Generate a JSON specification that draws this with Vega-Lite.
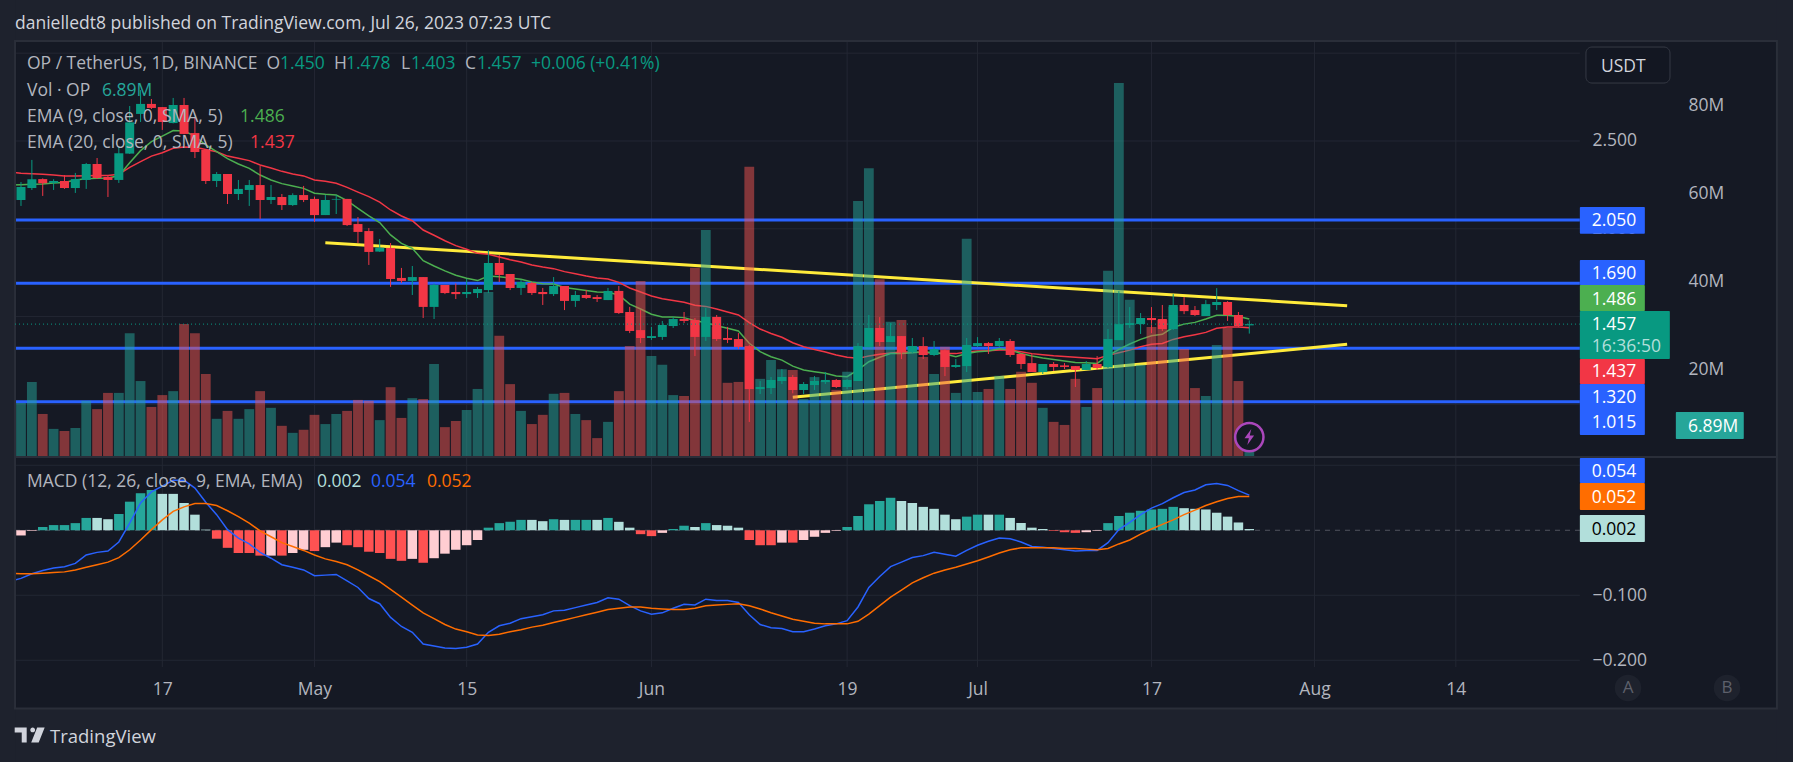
{"$schema":"https://vega.github.io/schema/vega-lite/v6.json","width":1793,"height":762,"autosize":{"type":"none"},"padding":0,"background":"#1e222d",
"data":{"values":[{}]},
"config":{"view":{"fill":"#151924","stroke":null},"font":"Open Sans","scale":{"continuousPadding":0},"axis":{"title":null,"domain":false,"ticks":false,"grid":false,"labelColor":"#b2b5be","labelFont":"Open Sans","labelFontSize":17.5,"labelPadding":0,"labelOverlap":false,"labelFlush":false},"text":{"font":"Open Sans","fontSize":17.5}},
"datasets":{
"bars":[
{"d":"2023-04-03","dir":null,"o":null,"h":null,"l":null,"c":null,"v":null,"e9":2.249,"e20":2.323,"hi":null,"hk":null,"m":-0.0785,"s":-0.066},
{"d":"2023-04-04","dir":"u","o":2.164,"h":2.266,"l":2.13,"c":2.238,"v":12.3,"e9":2.251,"e20":2.316,"hi":-0.008,"hk":"d","m":-0.074,"s":-0.067},
{"d":"2023-04-05","dir":"u","o":2.232,"h":2.392,"l":2.221,"c":2.282,"v":17.1,"e9":2.253,"e20":2.314,"hi":-0.001,"hk":"d","m":-0.067,"s":-0.067},
{"d":"2023-04-06","dir":"d","o":2.283,"h":2.287,"l":2.187,"c":2.259,"v":9.8,"e9":2.255,"e20":2.31,"hi":0.005,"hk":"a","m":-0.062,"s":-0.066},
{"d":"2023-04-07","dir":"u","o":2.261,"h":2.282,"l":2.221,"c":2.272,"v":6.4,"e9":2.261,"e20":2.306,"hi":0.008,"hk":"a","m":-0.058,"s":-0.065},
{"d":"2023-04-08","dir":"d","o":2.272,"h":2.306,"l":2.227,"c":2.232,"v":5.9,"e9":2.264,"e20":2.301,"hi":0.008,"hk":"a","m":-0.056,"s":-0.064},
{"d":"2023-04-09","dir":"u","o":2.232,"h":2.318,"l":2.204,"c":2.283,"v":6.6,"e9":2.278,"e20":2.301,"hi":0.011,"hk":"a","m":-0.051,"s":-0.061},
{"d":"2023-04-10","dir":"u","o":2.278,"h":2.375,"l":2.227,"c":2.369,"v":12.8,"e9":2.285,"e20":2.302,"hi":0.019,"hk":"a","m":-0.038,"s":-0.057},
{"d":"2023-04-11","dir":"d","o":2.369,"h":2.403,"l":2.283,"c":2.289,"v":10.9,"e9":2.287,"e20":2.304,"hi":0.019,"hk":"b","m":-0.034,"s":-0.053},
{"d":"2023-04-12","dir":"d","o":2.295,"h":2.306,"l":2.181,"c":2.278,"v":14.6,"e9":2.289,"e20":2.304,"hi":0.017,"hk":"b","m":-0.032,"s":-0.049},
{"d":"2023-04-13","dir":"u","o":2.278,"h":2.468,"l":2.261,"c":2.43,"v":14.6,"e9":2.302,"e20":2.31,"hi":0.025,"hk":"a","m":-0.018,"s":-0.042},
{"d":"2023-04-14","dir":"u","o":2.428,"h":2.699,"l":2.426,"c":2.606,"v":28.2,"e9":2.376,"e20":2.35,"hi":0.044,"hk":"a","m":0.011,"s":-0.03},
{"d":"2023-04-15","dir":"u","o":2.654,"h":2.79,"l":2.608,"c":2.711,"v":17.3,"e9":2.445,"e20":2.382,"hi":0.057,"hk":"a","m":0.042,"s":-0.015},
{"d":"2023-04-16","dir":"d","o":2.711,"h":2.739,"l":2.682,"c":2.688,"v":11.4,"e9":2.496,"e20":2.414,"hi":0.062,"hk":"a","m":0.059,"s":0.001},
{"d":"2023-04-17","dir":"d","o":2.693,"h":2.693,"l":2.563,"c":2.608,"v":14.1,"e9":2.528,"e20":2.433,"hi":0.056,"hk":"b","m":0.068,"s":0.016},
{"d":"2023-04-18","dir":"u","o":2.602,"h":2.745,"l":2.6,"c":2.705,"v":15.0,"e9":2.559,"e20":2.458,"hi":0.056,"hk":"b","m":0.077,"s":0.029},
{"d":"2023-04-19","dir":"d","o":2.705,"h":2.745,"l":2.538,"c":2.54,"v":30.3,"e9":2.557,"e20":2.466,"hi":0.042,"hk":"b","m":0.077,"s":0.036},
{"d":"2023-04-20","dir":"d","o":2.545,"h":2.631,"l":2.403,"c":2.437,"v":28.2,"e9":2.528,"e20":2.464,"hi":0.024,"hk":"b","m":0.065,"s":0.041},
{"d":"2023-04-21","dir":"d","o":2.449,"h":2.449,"l":2.255,"c":2.272,"v":18.9,"e9":2.477,"e20":2.452,"hi":0.001,"hk":"b","m":0.043,"s":0.041},
{"d":"2023-04-22","dir":"u","o":2.272,"h":2.323,"l":2.238,"c":2.312,"v":8.7,"e9":2.439,"e20":2.439,"hi":-0.013,"hk":"c","m":0.024,"s":0.038},
{"d":"2023-04-23","dir":"d","o":2.312,"h":2.312,"l":2.141,"c":2.198,"v":10.5,"e9":2.399,"e20":2.414,"hi":-0.027,"hk":"c","m":0.001,"s":0.03},
{"d":"2023-04-24","dir":"u","o":2.198,"h":2.278,"l":2.164,"c":2.227,"v":8.7,"e9":2.369,"e20":2.401,"hi":-0.035,"hk":"c","m":-0.012,"s":0.021},
{"d":"2023-04-25","dir":"u","o":2.221,"h":2.278,"l":2.13,"c":2.249,"v":10.9,"e9":2.344,"e20":2.388,"hi":-0.035,"hk":"c","m":-0.021,"s":0.011},
{"d":"2023-04-26","dir":"d","o":2.249,"h":2.357,"l":2.056,"c":2.164,"v":15.0,"e9":2.306,"e20":2.363,"hi":-0.039,"hk":"c","m":-0.034,"s":-0.001},
{"d":"2023-04-27","dir":"u","o":2.164,"h":2.249,"l":2.141,"c":2.181,"v":11.2,"e9":2.278,"e20":2.346,"hi":-0.039,"hk":"d","m":-0.043,"s":-0.01},
{"d":"2023-04-28","dir":"d","o":2.181,"h":2.198,"l":2.107,"c":2.135,"v":7.1,"e9":2.257,"e20":2.327,"hi":-0.039,"hk":"c","m":-0.053,"s":-0.019},
{"d":"2023-04-29","dir":"u","o":2.135,"h":2.202,"l":2.13,"c":2.192,"v":5.5,"e9":2.244,"e20":2.312,"hi":-0.035,"hk":"d","m":-0.057,"s":-0.025},
{"d":"2023-04-30","dir":"d","o":2.192,"h":2.244,"l":2.152,"c":2.164,"v":6.2,"e9":2.23,"e20":2.301,"hi":-0.03,"hk":"d","m":-0.061,"s":-0.031},
{"d":"2023-05-01","dir":"d","o":2.17,"h":2.183,"l":2.039,"c":2.078,"v":9.6,"e9":2.202,"e20":2.278,"hi":-0.032,"hk":"c","m":-0.07,"s":-0.038},
{"d":"2023-05-02","dir":"u","o":2.078,"h":2.192,"l":2.078,"c":2.164,"v":7.5,"e9":2.196,"e20":2.27,"hi":-0.026,"hk":"d","m":-0.069,"s":-0.044},
{"d":"2023-05-03","dir":"u","o":2.166,"h":2.192,"l":2.084,"c":2.17,"v":9.8,"e9":2.192,"e20":2.259,"hi":-0.019,"hk":"d","m":-0.068,"s":-0.048},
{"d":"2023-05-04","dir":"d","o":2.17,"h":2.17,"l":2.016,"c":2.021,"v":10.5,"e9":2.16,"e20":2.236,"hi":-0.023,"hk":"c","m":-0.078,"s":-0.053},
{"d":"2023-05-05","dir":"d","o":2.027,"h":2.067,"l":1.919,"c":1.982,"v":13.0,"e9":2.116,"e20":2.209,"hi":-0.026,"hk":"c","m":-0.088,"s":-0.061},
{"d":"2023-05-06","dir":"d","o":1.987,"h":2.004,"l":1.794,"c":1.868,"v":12.8,"e9":2.073,"e20":2.183,"hi":-0.033,"hk":"c","m":-0.105,"s":-0.07},
{"d":"2023-05-07","dir":"u","o":1.87,"h":1.942,"l":1.868,"c":1.892,"v":8.4,"e9":2.035,"e20":2.152,"hi":-0.035,"hk":"c","m":-0.113,"s":-0.079},
{"d":"2023-05-08","dir":"d","o":1.891,"h":1.919,"l":1.669,"c":1.714,"v":15.9,"e9":1.965,"e20":2.107,"hi":-0.044,"hk":"c","m":-0.134,"s":-0.091},
{"d":"2023-05-09","dir":"d","o":1.72,"h":1.777,"l":1.691,"c":1.703,"v":8.9,"e9":1.917,"e20":2.073,"hi":-0.047,"hk":"c","m":-0.148,"s":-0.103},
{"d":"2023-05-10","dir":"u","o":1.703,"h":1.788,"l":1.623,"c":1.725,"v":13.4,"e9":1.889,"e20":2.046,"hi":-0.044,"hk":"d","m":-0.157,"s":-0.115},
{"d":"2023-05-11","dir":"d","o":1.725,"h":1.725,"l":1.492,"c":1.555,"v":13.2,"e9":1.818,"e20":1.993,"hi":-0.05,"hk":"c","m":-0.175,"s":-0.127},
{"d":"2023-05-12","dir":"u","o":1.555,"h":1.688,"l":1.486,"c":1.68,"v":21.2,"e9":1.788,"e20":1.963,"hi":-0.043,"hk":"d","m":-0.178,"s":-0.136},
{"d":"2023-05-13","dir":"d","o":1.68,"h":1.68,"l":1.628,"c":1.634,"v":6.8,"e9":1.76,"e20":1.932,"hi":-0.036,"hk":"d","m":-0.181,"s":-0.145},
{"d":"2023-05-14","dir":"d","o":1.64,"h":1.689,"l":1.6,"c":1.628,"v":8.2,"e9":1.735,"e20":1.904,"hi":-0.03,"hk":"d","m":-0.182,"s":-0.152},
{"d":"2023-05-15","dir":"u","o":1.628,"h":1.714,"l":1.606,"c":1.64,"v":10.7,"e9":1.718,"e20":1.883,"hi":-0.023,"hk":"d","m":-0.18,"s":-0.156},
{"d":"2023-05-16","dir":"u","o":1.634,"h":1.668,"l":1.606,"c":1.657,"v":15.5,"e9":1.705,"e20":1.86,"hi":-0.015,"hk":"d","m":-0.175,"s":-0.161},
{"d":"2023-05-17","dir":"u","o":1.651,"h":1.879,"l":1.634,"c":1.805,"v":37.6,"e9":1.731,"e20":1.855,"hi":0.004,"hk":"a","m":-0.157,"s":-0.162},
{"d":"2023-05-18","dir":"d","o":1.805,"h":1.851,"l":1.697,"c":1.737,"v":27.6,"e9":1.727,"e20":1.839,"hi":0.011,"hk":"a","m":-0.147,"s":-0.16},
{"d":"2023-05-19","dir":"d","o":1.742,"h":1.742,"l":1.651,"c":1.663,"v":16.6,"e9":1.72,"e20":1.824,"hi":0.013,"hk":"a","m":-0.143,"s":-0.156},
{"d":"2023-05-20","dir":"u","o":1.663,"h":1.71,"l":1.623,"c":1.697,"v":10.5,"e9":1.712,"e20":1.811,"hi":0.016,"hk":"a","m":-0.136,"s":-0.153},
{"d":"2023-05-21","dir":"d","o":1.691,"h":1.697,"l":1.623,"c":1.634,"v":7.5,"e9":1.697,"e20":1.794,"hi":0.016,"hk":"b","m":-0.133,"s":-0.149},
{"d":"2023-05-22","dir":"d","o":1.64,"h":1.663,"l":1.566,"c":1.628,"v":9.6,"e9":1.687,"e20":1.782,"hi":0.014,"hk":"b","m":-0.13,"s":-0.146},
{"d":"2023-05-23","dir":"u","o":1.628,"h":1.725,"l":1.617,"c":1.674,"v":14.4,"e9":1.685,"e20":1.773,"hi":0.017,"hk":"a","m":-0.124,"s":-0.142},
{"d":"2023-05-24","dir":"d","o":1.674,"h":1.674,"l":1.537,"c":1.589,"v":14.6,"e9":1.666,"e20":1.756,"hi":0.016,"hk":"b","m":-0.123,"s":-0.138},
{"d":"2023-05-25","dir":"u","o":1.589,"h":1.646,"l":1.555,"c":1.623,"v":9.8,"e9":1.657,"e20":1.744,"hi":0.016,"hk":"a","m":-0.119,"s":-0.134},
{"d":"2023-05-26","dir":"d","o":1.623,"h":1.651,"l":1.6,"c":1.606,"v":8.4,"e9":1.649,"e20":1.731,"hi":0.016,"hk":"a","m":-0.115,"s":-0.13},
{"d":"2023-05-27","dir":"d","o":1.611,"h":1.623,"l":1.583,"c":1.6,"v":4.3,"e9":1.64,"e20":1.72,"hi":0.016,"hk":"b","m":-0.111,"s":-0.126},
{"d":"2023-05-28","dir":"u","o":1.594,"h":1.663,"l":1.594,"c":1.646,"v":8.0,"e9":1.638,"e20":1.714,"hi":0.019,"hk":"a","m":-0.104,"s":-0.122},
{"d":"2023-05-29","dir":"d","o":1.646,"h":1.674,"l":1.515,"c":1.52,"v":15.0,"e9":1.623,"e20":1.695,"hi":0.013,"hk":"b","m":-0.106,"s":-0.12},
{"d":"2023-05-30","dir":"d","o":1.526,"h":1.555,"l":1.406,"c":1.418,"v":25.3,"e9":1.571,"e20":1.663,"hi":0.004,"hk":"b","m":-0.116,"s":-0.118},
{"d":"2023-05-31","dir":"d","o":1.423,"h":1.537,"l":1.349,"c":1.378,"v":40.1,"e9":1.543,"e20":1.64,"hi":-0.006,"hk":"c","m":-0.124,"s":-0.118},
{"d":"2023-06-01","dir":"u","o":1.378,"h":1.441,"l":1.367,"c":1.389,"v":23.0,"e9":1.513,"e20":1.617,"hi":-0.009,"hk":"c","m":-0.129,"s":-0.12},
{"d":"2023-06-02","dir":"u","o":1.384,"h":1.475,"l":1.367,"c":1.452,"v":21.0,"e9":1.498,"e20":1.602,"hi":-0.004,"hk":"d","m":-0.127,"s":-0.121},
{"d":"2023-06-03","dir":"u","o":1.446,"h":1.498,"l":1.435,"c":1.486,"v":14.1,"e9":1.498,"e20":1.591,"hi":0.002,"hk":"a","m":-0.12,"s":-0.122},
{"d":"2023-06-04","dir":"d","o":1.486,"h":1.526,"l":1.463,"c":1.475,"v":13.9,"e9":1.494,"e20":1.581,"hi":0.007,"hk":"a","m":-0.114,"s":-0.122},
{"d":"2023-06-05","dir":"d","o":1.48,"h":1.492,"l":1.275,"c":1.384,"v":43.1,"e9":1.477,"e20":1.564,"hi":0.005,"hk":"b","m":-0.115,"s":-0.12},
{"d":"2023-06-06","dir":"u","o":1.384,"h":1.549,"l":1.361,"c":1.498,"v":51.7,"e9":1.465,"e20":1.558,"hi":0.011,"hk":"a","m":-0.106,"s":-0.116},
{"d":"2023-06-07","dir":"d","o":1.498,"h":1.509,"l":1.361,"c":1.372,"v":29.6,"e9":1.448,"e20":1.543,"hi":0.008,"hk":"b","m":-0.108,"s":-0.115},
{"d":"2023-06-08","dir":"d","o":1.378,"h":1.441,"l":1.349,"c":1.367,"v":16.9,"e9":1.433,"e20":1.526,"hi":0.007,"hk":"b","m":-0.108,"s":-0.114},
{"d":"2023-06-09","dir":"d","o":1.372,"h":1.406,"l":1.315,"c":1.327,"v":17.1,"e9":1.418,"e20":1.509,"hi":0.004,"hk":"b","m":-0.111,"s":-0.113},
{"d":"2023-06-10","dir":"d","o":1.332,"h":1.34,"l":0.9,"c":1.087,"v":66.1,"e9":1.348,"e20":1.465,"hi":-0.015,"hk":"c","m":-0.13,"s":-0.116},
{"d":"2023-06-11","dir":"u","o":1.087,"h":1.133,"l":1.059,"c":1.099,"v":17.8,"e9":1.3,"e20":1.429,"hi":-0.023,"hk":"c","m":-0.145,"s":-0.121},
{"d":"2023-06-12","dir":"u","o":1.093,"h":1.156,"l":1.059,"c":1.139,"v":22.1,"e9":1.271,"e20":1.404,"hi":-0.023,"hk":"c","m":-0.15,"s":-0.127},
{"d":"2023-06-13","dir":"u","o":1.133,"h":1.201,"l":1.116,"c":1.156,"v":20.0,"e9":1.252,"e20":1.382,"hi":-0.019,"hk":"d","m":-0.151,"s":-0.132},
{"d":"2023-06-14","dir":"d","o":1.156,"h":1.167,"l":1.063,"c":1.082,"v":19.8,"e9":1.218,"e20":1.351,"hi":-0.019,"hk":"c","m":-0.156,"s":-0.137},
{"d":"2023-06-15","dir":"u","o":1.082,"h":1.127,"l":1.059,"c":1.116,"v":13.2,"e9":1.196,"e20":1.328,"hi":-0.015,"hk":"d","m":-0.156,"s":-0.14},
{"d":"2023-06-16","dir":"u","o":1.11,"h":1.161,"l":1.082,"c":1.133,"v":18.2,"e9":1.186,"e20":1.313,"hi":-0.01,"hk":"d","m":-0.152,"s":-0.143},
{"d":"2023-06-17","dir":"u","o":1.127,"h":1.184,"l":1.116,"c":1.139,"v":17.3,"e9":1.177,"e20":1.298,"hi":-0.004,"hk":"d","m":-0.147,"s":-0.144},
{"d":"2023-06-18","dir":"d","o":1.139,"h":1.144,"l":1.093,"c":1.099,"v":15.3,"e9":1.161,"e20":1.281,"hi":-0.001,"hk":"d","m":-0.144,"s":-0.144},
{"d":"2023-06-19","dir":"u","o":1.099,"h":1.144,"l":1.087,"c":1.139,"v":19.4,"e9":1.158,"e20":1.268,"hi":0.005,"hk":"a","m":-0.139,"s":-0.144},
{"d":"2023-06-20","dir":"u","o":1.133,"h":1.349,"l":1.133,"c":1.332,"v":58.3,"e9":1.196,"e20":1.262,"hi":0.022,"hk":"a","m":-0.118,"s":-0.14},
{"d":"2023-06-21","dir":"u","o":1.326,"h":1.509,"l":1.326,"c":1.435,"v":65.8,"e9":1.243,"e20":1.275,"hi":0.04,"hk":"a","m":-0.088,"s":-0.129},
{"d":"2023-06-22","dir":"d","o":1.435,"h":1.497,"l":1.332,"c":1.355,"v":40.5,"e9":1.268,"e20":1.285,"hi":0.045,"hk":"a","m":-0.071,"s":-0.116},
{"d":"2023-06-23","dir":"u","o":1.355,"h":1.463,"l":1.355,"c":1.389,"v":30.8,"e9":1.29,"e20":1.292,"hi":0.05,"hk":"a","m":-0.056,"s":-0.103},
{"d":"2023-06-24","dir":"d","o":1.389,"h":1.389,"l":1.258,"c":1.298,"v":31.2,"e9":1.29,"e20":1.298,"hi":0.045,"hk":"b","m":-0.049,"s":-0.092},
{"d":"2023-06-25","dir":"u","o":1.298,"h":1.378,"l":1.292,"c":1.332,"v":25.3,"e9":1.294,"e20":1.298,"hi":0.042,"hk":"b","m":-0.042,"s":-0.081},
{"d":"2023-06-26","dir":"d","o":1.332,"h":1.383,"l":1.258,"c":1.281,"v":22.8,"e9":1.3,"e20":1.294,"hi":0.036,"hk":"b","m":-0.039,"s":-0.073},
{"d":"2023-06-27","dir":"u","o":1.281,"h":1.361,"l":1.275,"c":1.315,"v":18.9,"e9":1.294,"e20":1.292,"hi":0.033,"hk":"b","m":-0.034,"s":-0.066},
{"d":"2023-06-28","dir":"d","o":1.309,"h":1.315,"l":1.161,"c":1.213,"v":25.1,"e9":1.287,"e20":1.29,"hi":0.024,"hk":"b","m":-0.037,"s":-0.061},
{"d":"2023-06-29","dir":"u","o":1.213,"h":1.258,"l":1.207,"c":1.224,"v":14.6,"e9":1.271,"e20":1.289,"hi":0.017,"hk":"b","m":-0.04,"s":-0.057},
{"d":"2023-06-30","dir":"u","o":1.218,"h":1.378,"l":1.184,"c":1.338,"v":49.7,"e9":1.29,"e20":1.298,"hi":0.021,"hk":"a","m":-0.031,"s":-0.052},
{"d":"2023-07-01","dir":"u","o":1.332,"h":1.383,"l":1.326,"c":1.349,"v":14.8,"e9":1.3,"e20":1.304,"hi":0.024,"hk":"a","m":-0.023,"s":-0.047},
{"d":"2023-07-02","dir":"d","o":1.349,"h":1.355,"l":1.287,"c":1.332,"v":15.5,"e9":1.304,"e20":1.306,"hi":0.024,"hk":"b","m":-0.017,"s":-0.041},
{"d":"2023-07-03","dir":"u","o":1.332,"h":1.378,"l":1.326,"c":1.361,"v":18.5,"e9":1.317,"e20":1.309,"hi":0.024,"hk":"a","m":-0.012,"s":-0.035},
{"d":"2023-07-04","dir":"d","o":1.361,"h":1.372,"l":1.27,"c":1.281,"v":15.5,"e9":1.309,"e20":1.309,"hi":0.019,"hk":"b","m":-0.013,"s":-0.03},
{"d":"2023-07-05","dir":"d","o":1.287,"h":1.292,"l":1.201,"c":1.23,"v":19.4,"e9":1.29,"e20":1.3,"hi":0.011,"hk":"b","m":-0.018,"s":-0.027},
{"d":"2023-07-06","dir":"d","o":1.235,"h":1.287,"l":1.184,"c":1.184,"v":16.9,"e9":1.275,"e20":1.289,"hi":0.004,"hk":"b","m":-0.025,"s":-0.027},
{"d":"2023-07-07","dir":"u","o":1.184,"h":1.23,"l":1.173,"c":1.23,"v":11.2,"e9":1.264,"e20":1.283,"hi":0.002,"hk":"b","m":-0.026,"s":-0.027},
{"d":"2023-07-08","dir":"d","o":1.23,"h":1.241,"l":1.19,"c":1.213,"v":8.0,"e9":1.256,"e20":1.277,"hi":-0.001,"hk":"c","m":-0.028,"s":-0.027},
{"d":"2023-07-09","dir":"d","o":1.222,"h":1.235,"l":1.201,"c":1.213,"v":7.3,"e9":1.247,"e20":1.273,"hi":-0.003,"hk":"c","m":-0.03,"s":-0.028},
{"d":"2023-07-10","dir":"d","o":1.218,"h":1.218,"l":1.099,"c":1.196,"v":17.8,"e9":1.239,"e20":1.268,"hi":-0.004,"hk":"c","m":-0.032,"s":-0.028},
{"d":"2023-07-11","dir":"u","o":1.196,"h":1.247,"l":1.196,"c":1.23,"v":11.4,"e9":1.237,"e20":1.264,"hi":-0.003,"hk":"d","m":-0.031,"s":-0.029},
{"d":"2023-07-12","dir":"d","o":1.23,"h":1.275,"l":1.196,"c":1.207,"v":15.7,"e9":1.233,"e20":1.26,"hi":-0.001,"hk":"d","m":-0.031,"s":-0.03},
{"d":"2023-07-13","dir":"u","o":1.213,"h":1.429,"l":1.207,"c":1.372,"v":42.4,"e9":1.277,"e20":1.279,"hi":0.011,"hk":"a","m":-0.019,"s":-0.028},
{"d":"2023-07-14","dir":"u","o":1.366,"h":1.645,"l":1.366,"c":1.457,"v":85.2,"e9":1.313,"e20":1.294,"hi":0.022,"hk":"a","m":0.001,"s":-0.021},
{"d":"2023-07-15","dir":"u","o":1.452,"h":1.554,"l":1.435,"c":1.463,"v":35.8,"e9":1.344,"e20":1.309,"hi":0.027,"hk":"a","m":0.012,"s":-0.015},
{"d":"2023-07-16","dir":"u","o":1.457,"h":1.52,"l":1.401,"c":1.492,"v":21.0,"e9":1.37,"e20":1.328,"hi":0.03,"hk":"a","m":0.024,"s":-0.006},
{"d":"2023-07-17","dir":"d","o":1.492,"h":1.554,"l":1.406,"c":1.48,"v":29.6,"e9":1.391,"e20":1.342,"hi":0.032,"hk":"a","m":0.034,"s":0.002},
{"d":"2023-07-18","dir":"d","o":1.486,"h":1.566,"l":1.418,"c":1.429,"v":31.2,"e9":1.399,"e20":1.347,"hi":0.033,"hk":"a","m":0.041,"s":0.009},
{"d":"2023-07-19","dir":"u","o":1.429,"h":1.628,"l":1.423,"c":1.566,"v":34.2,"e9":1.439,"e20":1.37,"hi":0.036,"hk":"a","m":0.05,"s":0.016},
{"d":"2023-07-20","dir":"d","o":1.566,"h":1.611,"l":1.514,"c":1.531,"v":24.6,"e9":1.457,"e20":1.385,"hi":0.034,"hk":"b","m":0.058,"s":0.024},
{"d":"2023-07-21","dir":"d","o":1.537,"h":1.56,"l":1.503,"c":1.509,"v":15.7,"e9":1.467,"e20":1.397,"hi":0.033,"hk":"b","m":0.062,"s":0.031},
{"d":"2023-07-22","dir":"u","o":1.503,"h":1.594,"l":1.503,"c":1.571,"v":13.9,"e9":1.486,"e20":1.41,"hi":0.032,"hk":"b","m":0.07,"s":0.038},
{"d":"2023-07-23","dir":"u","o":1.566,"h":1.662,"l":1.537,"c":1.583,"v":25.5,"e9":1.507,"e20":1.433,"hi":0.027,"hk":"b","m":0.072,"s":0.044},
{"d":"2023-07-24","dir":"d","o":1.583,"h":1.588,"l":1.475,"c":1.509,"v":29.4,"e9":1.507,"e20":1.44,"hi":0.021,"hk":"b","m":0.069,"s":0.049},
{"d":"2023-07-25","dir":"d","o":1.509,"h":1.526,"l":1.44,"c":1.446,"v":17.3,"e9":1.501,"e20":1.44,"hi":0.012,"hk":"b","m":0.061,"s":0.052},
{"d":"2023-07-26","dir":"u","o":1.45,"h":1.478,"l":1.403,"c":1.457,"v":6.89,"e9":1.486,"e20":1.437,"hi":0.002,"hk":"b","m":0.054,"s":0.052}
],
"ticks":[{"d":"2023-04-17"},{"d":"2023-05-01"},{"d":"2023-05-15"},{"d":"2023-06-01"},{"d":"2023-06-19"},{"d":"2023-07-01"},{"d":"2023-07-17"},{"d":"2023-08-01"},{"d":"2023-08-14"}],
"priceGrid":[{"p":3},{"p":2.5},{"p":2},{"p":1.5},{"p":1}],
"macdGrid":[{"m":0.1},{"m":-0.1},{"m":-0.2}],
"levels":[{"p":2.05},{"p":1.69},{"p":1.32},{"p":1.015}],
"trend":[{"id":"upper","d":"2023-05-02","p":1.921},{"id":"upper","d":"2023-08-04","p":1.562},{"id":"lower","d":"2023-06-14","p":1.04},{"id":"lower","d":"2023-08-04","p":1.342}],
"bands":[
{"t0":"2023-04-02T01:39:00Z","t1":"2023-09-14T00:26:00Z","p0":3.3028,"p1":3.0693},
{"t0":"2023-04-02T01:39:00Z","t1":"2023-09-14T00:26:00Z","p0":-0.7348,"p1":-1.0366},
{"t0":"2023-04-02T01:39:00Z","t1":"2023-04-03T10:48:00Z","p0":3.3028,"p1":-1.0366},
{"t0":"2023-09-12T12:58:00Z","t1":"2023-09-14T00:26:00Z","p0":3.3028,"p1":-1.0366}],
"tags":[
{"kind":"level","t0":"2023-08-25T09:50:00Z","t1":"2023-08-31T09:20:00Z","p0":2.124,"p1":1.972},
{"kind":"level","t0":"2023-08-25T09:50:00Z","t1":"2023-08-31T09:20:00Z","p0":1.822,"p1":1.68},
{"kind":"ema9","t0":"2023-08-25T09:50:00Z","t1":"2023-08-31T09:20:00Z","p0":1.68,"p1":1.532},
{"kind":"last","t0":"2023-08-25T09:50:00Z","t1":"2023-09-02T16:30:00Z","p0":1.532,"p1":1.258},
{"kind":"ema20","t0":"2023-08-25T09:50:00Z","t1":"2023-08-31T09:20:00Z","p0":1.258,"p1":1.116},
{"kind":"level","t0":"2023-08-25T09:50:00Z","t1":"2023-08-31T09:20:00Z","p0":1.116,"p1":0.826},
{"kind":"vol","t0":"2023-09-03T05:45:00Z","t1":"2023-09-09T11:45:00Z","p0":0.957,"p1":0.803},
{"kind":"level","t0":"2023-08-25T09:50:00Z","t1":"2023-08-31T09:20:00Z","p0":0.695,"p1":0.552},
{"kind":"signal","t0":"2023-08-25T09:50:00Z","t1":"2023-08-31T09:20:00Z","p0":0.552,"p1":0.398},
{"kind":"hist","t0":"2023-08-25T09:50:00Z","t1":"2023-08-31T09:20:00Z","p0":0.37,"p1":0.216}],
"tagText":[
{"t":"2.050","at":"2023-08-26T12:00:00Z","p":2.05,"ink":"white"},
{"t":"1.690","at":"2023-08-26T12:00:00Z","p":1.748,"ink":"white"},
{"t":"1.486","at":"2023-08-26T12:00:00Z","p":1.6,"ink":"white"},
{"t":"1.457","at":"2023-08-26T12:00:00Z","p":1.456,"ink":"white"},
{"t":"16:36:50","at":"2023-08-26T12:00:00Z","p":1.332,"ink":"mint"},
{"t":"1.437","at":"2023-08-26T12:00:00Z","p":1.19,"ink":"white"},
{"t":"1.320","at":"2023-08-26T12:00:00Z","p":1.042,"ink":"white"},
{"t":"1.015","at":"2023-08-26T12:00:00Z","p":0.9,"ink":"white"},
{"t":"6.89M","at":"2023-09-04T08:24:00Z","p":0.877,"ink":"white"},
{"t":"0.054","at":"2023-08-26T12:00:00Z","p":0.621,"ink":"white"},
{"t":"0.052","at":"2023-08-26T12:00:00Z","p":0.472,"ink":"white"},
{"t":"0.002","at":"2023-08-26T12:00:00Z","p":0.29,"ink":"black"},
{"t":"USDT","at":"2023-08-27T08:24:00Z","p":2.929,"ink":"pale"},
{"t":"OP / TetherUS, 1D, BINANCE","at":"2023-04-04T13:12:00Z","p":2.944,"ink":"grey"},
{"t":"O","at":"2023-04-26T14:10:00Z","p":2.944,"ink":"grey"},
{"t":"1.450","at":"2023-04-27T19:55:00Z","p":2.944,"ink":"teal"},
{"t":"H","at":"2023-05-02T19:12:00Z","p":2.944,"ink":"grey"},
{"t":"1.478","at":"2023-05-03T21:36:00Z","p":2.944,"ink":"teal"},
{"t":"L","at":"2023-05-08T23:02:00Z","p":2.944,"ink":"grey"},
{"t":"1.403","at":"2023-05-09T21:07:00Z","p":2.944,"ink":"teal"},
{"t":"C","at":"2023-05-14T20:24:00Z","p":2.944,"ink":"grey"},
{"t":"1.457","at":"2023-05-15T22:48:00Z","p":2.944,"ink":"teal"},
{"t":"+0.006 (+0.41%)","at":"2023-05-20T22:05:00Z","p":2.944,"ink":"teal"},
{"t":"Vol · OP","at":"2023-04-04T13:12:00Z","p":2.79,"ink":"grey"},
{"t":"6.89M","at":"2023-04-11T10:48:00Z","p":2.79,"ink":"aqua"},
{"t":"EMA (9, close, 0, SMA, 5)","at":"2023-04-04T13:12:00Z","p":2.642,"ink":"grey"},
{"t":"1.486","at":"2023-04-24T03:36:00Z","p":2.642,"ink":"green"},
{"t":"EMA (20, close, 0, SMA, 5)","at":"2023-04-04T13:12:00Z","p":2.494,"ink":"grey"},
{"t":"1.437","at":"2023-04-25T01:41:00Z","p":2.494,"ink":"red"},
{"t":"MACD (12, 26, close, 9, EMA, EMA)","at":"2023-04-04T13:12:00Z","p":0.564,"ink":"grey"},
{"t":"0.002","at":"2023-05-01T05:31:00Z","p":0.564,"ink":"mint"},
{"t":"0.054","at":"2023-05-06T04:48:00Z","p":0.564,"ink":"blue"},
{"t":"0.052","at":"2023-05-11T08:24:00Z","p":0.564,"ink":"orange"},
{"t":"danielledt8 published on TradingView.com, Jul 26, 2023 07:23 UTC","at":"2023-04-03T10:48:00Z","p":3.172,"ink":"pale"}],
"buttons":[{"t":"A","d":"2023-08-29T20:10:00Z","p":-0.615},{"t":"B","d":"2023-09-07T22:48:00Z","p":-0.615}]
},
"resolve":{"scale":{"y":"independent","color":"independent"},"axis":{"x":"independent","y":"independent"}},
"layer":[
{"data":{"name":"ticks"},"mark":{"type":"rule","color":"#232733","strokeWidth":1},"encoding":{"x":{"field":"d","type":"temporal","scale":{"domain":["2023-04-02T01:39:00Z","2023-09-14T00:26:00Z"],"nice":false},"axis":{"orient":"bottom","offset":-82,"values":["2023-04-17","2023-05-01","2023-05-15","2023-06-01","2023-06-19","2023-07-01","2023-07-17","2023-08-01","2023-08-14"],"labelExpr":"utcdate(datum.value)==1?utcFormat(datum.value,'%b'):utcFormat(datum.value,'%-d')","labelAlign":"center","labelBaseline":"top"}},"y":{"datum":3.0693,"type":"quantitative","scale":{"domain":[-1.0366,3.3028],"nice":false,"zero":false},"axis":{"orient":"right","offset":-201,"values":[2.5,2],"format":".3f","labelAlign":"left","labelBaseline":"middle"}},"y2":{"datum":-0.4956}}},
{"layer":[
{"data":{"name":"priceGrid"},"mark":{"type":"rule","color":"#232733","strokeWidth":1},"encoding":{"y":{"field":"p","type":"quantitative","scale":{"domain":[-1.0366,3.3028],"nice":false,"zero":false},"axis":null},"x":{"datum":{"year":2023,"month":4,"date":3,"hours":10,"minutes":48,"utc":true},"type":"temporal","scale":{"domain":["2023-04-02T01:39:00Z","2023-09-14T00:26:00Z"],"nice":false},"axis":null},"x2":{"datum":{"year":2023,"month":8,"date":25,"hours":9,"minutes":50,"utc":true}}}},
{"data":{"name":"levels"},"mark":{"type":"rule","color":"#2962ff","strokeWidth":3},"encoding":{"y":{"field":"p","type":"quantitative","scale":{"domain":[-1.0366,3.3028],"nice":false,"zero":false},"axis":null},"x":{"datum":{"year":2023,"month":4,"date":3,"hours":10,"minutes":48,"utc":true},"type":"temporal","scale":{"domain":["2023-04-02T01:39:00Z","2023-09-14T00:26:00Z"],"nice":false},"axis":null},"x2":{"datum":{"year":2023,"month":8,"date":25,"hours":9,"minutes":50,"utc":true}}}},
{"data":{"name":"trend"},"mark":{"type":"line","color":"#ffeb3b","strokeWidth":3},"encoding":{"detail":{"field":"id"},"x":{"field":"d","type":"temporal","scale":{"domain":["2023-04-02T01:39:00Z","2023-09-14T00:26:00Z"],"nice":false},"axis":null},"y":{"field":"p","type":"quantitative","scale":{"domain":[-1.0366,3.3028],"nice":false,"zero":false},"axis":null}}},
{"data":{"name":"bars"},"mark":{"type":"line","color":"#f23645","strokeWidth":1.5},"encoding":{"x":{"field":"d","type":"temporal","scale":{"domain":["2023-04-02T01:39:00Z","2023-09-14T00:26:00Z"],"nice":false},"axis":null},"y":{"field":"e20","type":"quantitative","scale":{"domain":[-1.0366,3.3028],"nice":false,"zero":false},"axis":null}}},
{"data":{"name":"bars"},"mark":{"type":"line","color":"#4caf50","strokeWidth":1.5},"encoding":{"x":{"field":"d","type":"temporal","scale":{"domain":["2023-04-02T01:39:00Z","2023-09-14T00:26:00Z"],"nice":false},"axis":null},"y":{"field":"e9","type":"quantitative","scale":{"domain":[-1.0366,3.3028],"nice":false,"zero":false},"axis":null}}}
]},
{"data":{"name":"macdGrid"},"mark":{"type":"rule","color":"#232733","strokeWidth":1},"encoding":{"y":{"field":"m","type":"quantitative","scale":{"domain":[-0.3565,0.8158],"nice":false,"zero":false},"axis":{"orient":"right","offset":-201,"values":[-0.1,-0.2],"format":".3f","labelAlign":"left","labelBaseline":"middle"}},"x":{"datum":{"year":2023,"month":4,"date":3,"hours":10,"minutes":48,"utc":true},"type":"temporal","scale":{"domain":["2023-04-02T01:39:00Z","2023-09-14T00:26:00Z"],"nice":false},"axis":null},"x2":{"datum":{"year":2023,"month":8,"date":25,"hours":9,"minutes":50,"utc":true}}}},
{"layer":[
{"mark":{"type":"rule","color":"#787b86","strokeWidth":1,"strokeDash":[5,5],"opacity":0.6},"encoding":{"y":{"datum":0,"type":"quantitative","scale":{"domain":[-0.3565,0.8158],"nice":false,"zero":false},"axis":null},"x":{"datum":{"year":2023,"month":4,"date":3,"hours":10,"minutes":48,"utc":true},"type":"temporal","scale":{"domain":["2023-04-02T01:39:00Z","2023-09-14T00:26:00Z"],"nice":false},"axis":null},"x2":{"datum":{"year":2023,"month":8,"date":25,"hours":9,"minutes":50,"utc":true}}}},
{"data":{"name":"bars"},"mark":{"type":"bar","size":9.5},"encoding":{"x":{"field":"d","type":"temporal","scale":{"domain":["2023-04-02T01:39:00Z","2023-09-14T00:26:00Z"],"nice":false},"axis":null},"y":{"field":"hi","type":"quantitative","stack":null,"scale":{"domain":[-0.3565,0.8158],"nice":false,"zero":false},"axis":null},"color":{"field":"hk","type":"nominal","legend":null,"scale":{"domain":["a","b","c","d"],"range":["#26a69a","#b2dfdb","#ff5252","#ffcdd2"]}}}},
{"data":{"name":"bars"},"mark":{"type":"line","color":"#2962ff","strokeWidth":1.5},"encoding":{"x":{"field":"d","type":"temporal","scale":{"domain":["2023-04-02T01:39:00Z","2023-09-14T00:26:00Z"],"nice":false},"axis":null},"y":{"field":"m","type":"quantitative","scale":{"domain":[-0.3565,0.8158],"nice":false,"zero":false},"axis":null}}},
{"data":{"name":"bars"},"mark":{"type":"line","color":"#ff6d00","strokeWidth":1.5},"encoding":{"x":{"field":"d","type":"temporal","scale":{"domain":["2023-04-02T01:39:00Z","2023-09-14T00:26:00Z"],"nice":false},"axis":null},"y":{"field":"s","type":"quantitative","scale":{"domain":[-0.3565,0.8158],"nice":false,"zero":false},"axis":null}}}
]},
{"data":{"name":"bars"},"mark":{"type":"bar","size":9.8,"opacity":0.5},"encoding":{"x":{"field":"d","type":"temporal","scale":{"domain":["2023-04-02T01:39:00Z","2023-09-14T00:26:00Z"],"nice":false},"axis":null},"y":{"field":"v","type":"quantitative","stack":null,"scale":{"domain":[-69.48,104.1],"nice":false,"zero":false},"axis":{"orient":"right","offset":-105,"values":[20,40,60,80],"labelExpr":"datum.value+'M'","labelAlign":"left","labelBaseline":"middle"}},"color":{"field":"dir","type":"nominal","legend":null,"scale":{"domain":["u","d"],"range":["#26a69a","#ef5350"]}}}},
{"layer":[
{"data":{"name":"bars"},"mark":{"type":"rule","strokeWidth":1},"encoding":{"x":{"field":"d","type":"temporal","scale":{"domain":["2023-04-02T01:39:00Z","2023-09-14T00:26:00Z"],"nice":false},"axis":null},"y":{"field":"l","type":"quantitative","scale":{"domain":[-1.0366,3.3028],"nice":false,"zero":false},"axis":null},"y2":{"field":"h"},"color":{"field":"dir","type":"nominal","legend":null,"scale":{"domain":["u","d"],"range":["#089981","#f23645"]}}}},
{"data":{"name":"bars"},"mark":{"type":"bar","size":9},"encoding":{"x":{"field":"d","type":"temporal","scale":{"domain":["2023-04-02T01:39:00Z","2023-09-14T00:26:00Z"],"nice":false},"axis":null},"y":{"field":"o","type":"quantitative","scale":{"domain":[-1.0366,3.3028],"nice":false,"zero":false},"axis":null},"y2":{"field":"c"},"color":{"field":"dir","type":"nominal","legend":null,"scale":{"domain":["u","d"],"range":["#089981","#f23645"]}}}},
{"data":{"values":[{"d":"2023-07-26","p":0.814}]},"mark":{"type":"point","filled":true,"size":800,"fill":"#151924","stroke":"#ab47bc","strokeWidth":2.5,"opacity":1},"encoding":{"x":{"field":"d","type":"temporal","scale":{"domain":["2023-04-02T01:39:00Z","2023-09-14T00:26:00Z"],"nice":false},"axis":null},"y":{"field":"p","type":"quantitative","scale":{"domain":[-1.0366,3.3028],"nice":false,"zero":false},"axis":null}}},
{"data":{"values":[{"d":"2023-07-26","p":0.814}]},"mark":{"type":"point","filled":true,"size":256,"fill":"#ab47bc","strokeWidth":0,"opacity":1,"shape":"M.25 -1 L-.6 .15 H-.05 L-.25 1 L.6 -.2 H.05 Z"},"encoding":{"x":{"field":"d","type":"temporal","scale":{"domain":["2023-04-02T01:39:00Z","2023-09-14T00:26:00Z"],"nice":false},"axis":null},"y":{"field":"p","type":"quantitative","scale":{"domain":[-1.0366,3.3028],"nice":false,"zero":false},"axis":null}}},
{"data":{"name":"bands"},"mark":{"type":"rect","color":"#1e222d"},"encoding":{"x":{"field":"t0","type":"temporal","scale":{"domain":["2023-04-02T01:39:00Z","2023-09-14T00:26:00Z"],"nice":false},"axis":null},"x2":{"field":"t1"},"y":{"field":"p0","type":"quantitative","scale":{"domain":[-1.0366,3.3028],"nice":false,"zero":false},"axis":null},"y2":{"field":"p1"}}},
{"mark":{"type":"rect","fillOpacity":0,"stroke":"#2a2e39","strokeWidth":2},"encoding":{"x":{"datum":{"year":2023,"month":4,"date":3,"hours":10,"minutes":48,"utc":true},"type":"temporal","scale":{"domain":["2023-04-02T01:39:00Z","2023-09-14T00:26:00Z"],"nice":false},"axis":null},"x2":{"datum":{"year":2023,"month":9,"date":12,"hours":12,"minutes":58,"utc":true}},"y":{"datum":3.0693,"type":"quantitative","scale":{"domain":[-1.0366,3.3028],"nice":false,"zero":false},"axis":null},"y2":{"datum":-0.7319}}},
{"mark":{"type":"rule","color":"#2a2e39","strokeWidth":2},"encoding":{"x":{"datum":{"year":2023,"month":4,"date":3,"hours":10,"minutes":48,"utc":true},"type":"temporal","scale":{"domain":["2023-04-02T01:39:00Z","2023-09-14T00:26:00Z"],"nice":false},"axis":null},"x2":{"datum":{"year":2023,"month":9,"date":12,"hours":12,"minutes":58,"utc":true}},"y":{"datum":0.7003,"type":"quantitative","scale":{"domain":[-1.0366,3.3028],"nice":false,"zero":false},"axis":null}}},
{"mark":{"type":"rule","color":"#089981","strokeWidth":1,"strokeDash":[1,3]},"encoding":{"x":{"datum":{"year":2023,"month":4,"date":3,"hours":10,"minutes":48,"utc":true},"type":"temporal","scale":{"domain":["2023-04-02T01:39:00Z","2023-09-14T00:26:00Z"],"nice":false},"axis":null},"x2":{"datum":{"year":2023,"month":8,"date":25,"hours":9,"minutes":50,"utc":true}},"y":{"datum":1.457,"type":"quantitative","scale":{"domain":[-1.0366,3.3028],"nice":false,"zero":false},"axis":null}}},
{"mark":{"type":"rect","fill":"#131722","stroke":"#363a45","strokeWidth":1,"cornerRadius":6},"encoding":{"x":{"datum":{"year":2023,"month":8,"date":25,"hours":23,"minutes":17,"utc":true},"type":"temporal","scale":{"domain":["2023-04-02T01:39:00Z","2023-09-14T00:26:00Z"],"nice":false},"axis":null},"x2":{"datum":{"year":2023,"month":9,"date":2,"hours":16,"minutes":48,"utc":true}},"y":{"datum":3.035,"type":"quantitative","scale":{"domain":[-1.0366,3.3028],"nice":false,"zero":false},"axis":null},"y2":{"datum":2.83}}},
{"data":{"name":"buttons"},"mark":{"type":"point","filled":true,"size":700,"fill":"#1e222d","opacity":1},"encoding":{"x":{"field":"d","type":"temporal","scale":{"domain":["2023-04-02T01:39:00Z","2023-09-14T00:26:00Z"],"nice":false},"axis":null},"y":{"field":"p","type":"quantitative","scale":{"domain":[-1.0366,3.3028],"nice":false,"zero":false},"axis":null}}},
{"data":{"name":"buttons"},"mark":{"type":"text","color":"#5d606b","fontSize":17,"align":"center","baseline":"middle"},"encoding":{"text":{"field":"t"},"x":{"field":"d","type":"temporal","scale":{"domain":["2023-04-02T01:39:00Z","2023-09-14T00:26:00Z"],"nice":false},"axis":null},"y":{"field":"p","type":"quantitative","scale":{"domain":[-1.0366,3.3028],"nice":false,"zero":false},"axis":null}}},
{"data":{"values":[{"d":"2023-04-04T19:12:00Z","p":-0.883}]},"mark":{"type":"point","filled":true,"size":900,"fill":"#d1d4dc","strokeWidth":0,"opacity":1,"shape":"M-1 -.5H-.2V.5H-.53V-.17H-1ZM.2 -.5A.16 .16 0 1 1 .2 -.18A.16 .16 0 1 1 .2 -.5ZM.5 -.5H1L.6 .5H.1Z"},"encoding":{"x":{"field":"d","type":"temporal","scale":{"domain":["2023-04-02T01:39:00Z","2023-09-14T00:26:00Z"],"nice":false},"axis":null},"y":{"field":"p","type":"quantitative","scale":{"domain":[-1.0366,3.3028],"nice":false,"zero":false},"axis":null}}},
{"data":{"values":[{"t":"TradingView","d":"2023-04-06T16:05:00Z","p":-0.894}]},"mark":{"type":"text","color":"#d1d4dc","fontSize":18.5,"align":"left","baseline":"middle"},"encoding":{"text":{"field":"t"},"x":{"field":"d","type":"temporal","scale":{"domain":["2023-04-02T01:39:00Z","2023-09-14T00:26:00Z"],"nice":false},"axis":null},"y":{"field":"p","type":"quantitative","scale":{"domain":[-1.0366,3.3028],"nice":false,"zero":false},"axis":null}}}
]},
{"data":{"name":"tags"},"mark":{"type":"rect","cornerRadius":1},"encoding":{"x":{"field":"t0","type":"temporal","scale":{"domain":["2023-04-02T01:39:00Z","2023-09-14T00:26:00Z"],"nice":false},"axis":null},"x2":{"field":"t1"},"y":{"field":"p0","type":"quantitative","scale":{"domain":[-1.0366,3.3028],"nice":false,"zero":false},"axis":null},"y2":{"field":"p1"},"color":{"field":"kind","type":"nominal","legend":null,"scale":{"domain":["level","ema9","last","ema20","vol","signal","hist"],"range":["#2962ff","#4caf50","#089981","#f23645","#26a69a","#ff6d00","#b2dfdb"]}}}},
{"data":{"name":"tagText"},"mark":{"type":"text","align":"left","baseline":"middle","fontSize":17.5,"dy":1},"encoding":{"text":{"field":"t"},"x":{"field":"at","type":"temporal","scale":{"domain":["2023-04-02T01:39:00Z","2023-09-14T00:26:00Z"],"nice":false},"axis":null},"y":{"field":"p","type":"quantitative","scale":{"domain":[-1.0366,3.3028],"nice":false,"zero":false},"axis":null},"color":{"field":"ink","type":"nominal","legend":null,"scale":{"domain":["white","mint","black","pale","grey","teal","aqua","green","red","blue","orange"],"range":["#ffffff","#b2dfdb","#000000","#d1d4dc","#b2b5be","#089981","#26a69a","#4caf50","#f23645","#2962ff","#ff6d00"]}}}}
]}
